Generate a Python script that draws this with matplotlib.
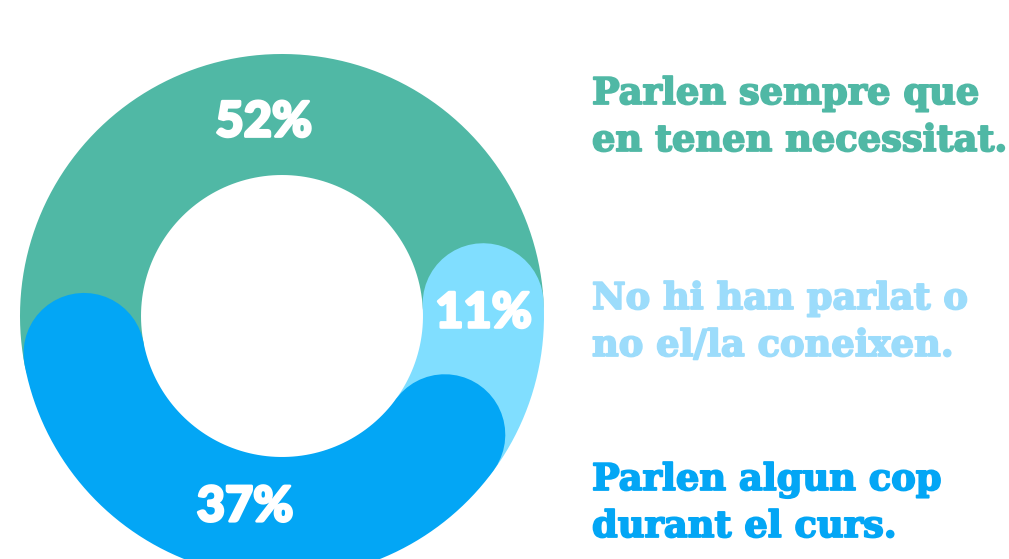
import numpy as np
import matplotlib
matplotlib.use("Agg")
import matplotlib.pyplot as plt
import matplotlib.patheffects as pe

# data
shares = [52, 37, 11]  # counter-clockwise from the right
labels = ["Parlen sempre que\nen tenen necessitat.",
          "Parlen algun cop\ndurant el curs.",
          "No hi han parlat o\nno el/la coneixen."]
ring_colors = ["#50B8A5", "#03A6F5", "#80DEFF"]
text_colors = ["#50B8A5", "#03A6F5", "#9CDCFB"]

W, H, dpi = 1009, 559, 100
fig = plt.figure(figsize=(W / dpi, H / dpi), dpi=dpi)
ax = fig.add_axes([0, 0, 1, 1])
ax.set_xlim(0, W)
ax.set_ylim(H, 0)
ax.axis("off")

cx, cy = 282, 316
r_out, r_in = 262, 141
r_mid = (r_out + r_in) / 2
width = r_out - r_in
cap = np.degrees((width / 2) / r_mid)
start = 3.5
zorder = [1, 3, 2]  # blue on top, then light blue, then green

bounds = start + np.concatenate([[0], np.cumsum(shares)]) * 3.6

def pt(a, r):
    return cx + r * np.cos(np.radians(a)), cy - r * np.sin(np.radians(a))

for i, col in enumerate(ring_colors):
    a = np.linspace(bounds[i], bounds[i + 1], 300)
    x, y = pt(a, r_mid)
    ax.plot(x, y, color=col, lw=width * 72 / dpi, solid_capstyle="round",
            zorder=zorder[i])

# visible extent of each segment (caps of the upper segment overlap)
n = len(shares)
vis = []
for i in range(n):
    prev, nxt = (i - 1) % n, (i + 1) % n
    lo = bounds[i] - cap if zorder[i] > zorder[prev] else bounds[i] + cap
    hi = bounds[i + 1] + cap if zorder[i] > zorder[nxt] else bounds[i + 1] - cap
    vis.append((lo + hi) / 2)

for i, v in enumerate(shares):
    x, y = pt(vis[i], r_mid - 6)
    ax.text(x + 6, y, f"{v}%", color="white", fontsize=35, fontweight="black",
            family=["Lato", "DejaVu Sans"], ha="center", va="center", zorder=5,
            path_effects=[pe.withStroke(linewidth=2, foreground="white")])

# legend texts, top to bottom: green, light blue, blue
order = [0, 2, 1]
base_y = [104, 309, 490]
for k, i in enumerate(order):
    for j, line in enumerate(labels[i].split("\n")):
        ax.text(592, base_y[k] + j * 47, line, color=text_colors[i],
                fontsize=26.5, fontweight="bold", family=["DejaVu Serif"],
                ha="left", va="baseline",
                path_effects=[pe.withStroke(linewidth=1.3, foreground=text_colors[i])])

fig.savefig("out.png", dpi=dpi, facecolor="white")
